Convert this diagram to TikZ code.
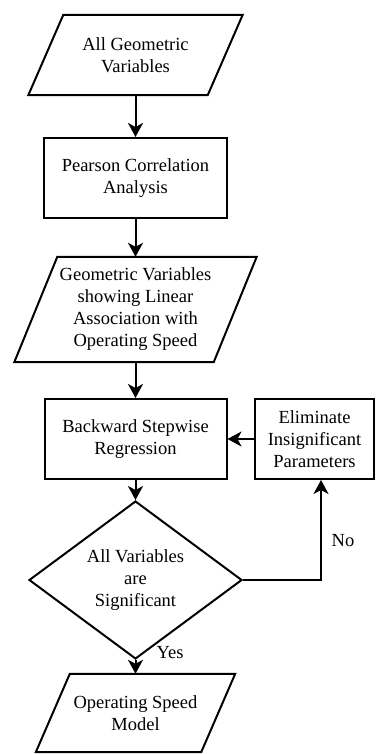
\documentclass[tikz,border=0pt]{standalone}
\usepackage{fontspec}
\setmainfont{Liberation Serif}
\usetikzlibrary{shapes.geometric,arrows.meta}

\begin{document}
\begin{tikzpicture}[
            x=1pt,   % 1 unit = 1pt
            y=-1pt,  % y grows downwards
            font=\fontsize{18.5}{22}\selectfont,
            box/.style={draw, line width=2pt, rectangle, align=center, inner sep=0pt},
            io/.style={rectangle, align=center, inner sep=0pt},
            decision/.style={draw, line width=2pt, diamond, align=center, inner sep=0pt},
            flow/.style={line width=2pt, -{Stealth[length=14pt,width=15pt,inset=4pt]}}
        ]
            \useasboundingbox (0,0) rectangle (376,754);

            % input
            \node[io, minimum width=179pt, minimum height=80pt] (allvar) at (135.5,55) {All Geometric\\Variables};

            % correlation
            \node[box, minimum width=183pt, minimum height=80pt] (pearson) at (135.5,178) {Pearson Correlation\\Analysis};

            % selected variables
            \node[io, minimum width=199pt, minimum height=105pt] (linvar) at (135.5,309.5) {Geometric Variables\\showing Linear\\Association with\\Operating Speed};

            % regression loop
            \node[box, minimum width=182pt, minimum height=80pt] (backward) at (135.5,439) {Backward Stepwise\\Regression};
            \node[box, minimum width=119pt, minimum height=80pt] (elim) at (314.5,439) {Eliminate\\Insignificant\\Parameters};
            \node[decision, minimum width=213pt, minimum height=124pt] (check) at (135.5,580) {All Variables\\are\\Significant};

            % output
            \node[io, minimum width=165pt, minimum height=78pt] (model) at (135.5,713) {Operating Speed\\Model};

            % parallelogram outlines
            \foreach \n/\s in {allvar/17.5, linvar/21.5, model/17}
                \draw[line width=2pt, line join=miter]
                    ([xshift=\s pt]\n.north west) -- ([xshift=\s pt]\n.north east)
                    -- ([xshift=-\s pt]\n.south east) -- ([xshift=-\s pt]\n.south west) -- cycle;

            % arrows
            \draw[flow] (allvar.south) -- (pearson.north);
            \draw[flow] (pearson.south) -- (linvar.north);
            \draw[flow] (linvar.south) -- (backward.north);
            \draw[flow] (backward.south) -- (check.north);
            \draw[flow] (check.south) -- (model.north);
            \draw[flow] (elim.west) -- (backward.east);
            \coordinate (turn) at (321,580);
            \draw[flow] (check.east) -- (turn) -- (turn |- elim.south);

            % labels
            \node (yes) at (170,653) {Yes};
            \node (no) at (343,541) {No};
        \end{tikzpicture}
\end{document}
